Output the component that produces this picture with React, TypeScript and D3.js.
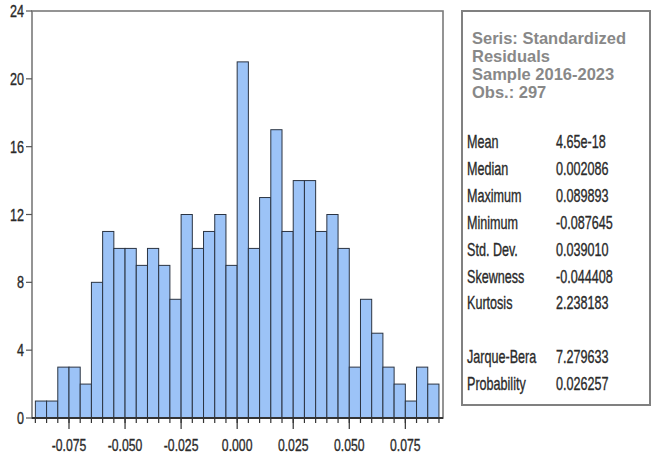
import React from "react";
import * as d3 from "d3";

const binStart = -0.09;
const binWidth = 0.005;
const counts = [1, 1, 3, 3, 2, 8, 11, 10, 10, 9, 10, 9, 7, 12, 10, 11, 12, 9, 21, 10, 13, 17, 11, 14, 14, 11, 12, 10, 3, 7, 5, 3, 2, 1, 3, 2];
const xTicks = [-0.075, -0.05, -0.025, 0, 0.025, 0.05, 0.075];
const yTicks = [0, 4, 8, 12, 16, 20, 24];
const headerLines = ["Seris: Standardized", "Residuals", "Sample 2016-2023", "Obs.: 297"];
const statLabels = ["Mean", "Median", "Maximum", "Minimum", "Std. Dev.", "Skewness", "Kurtosis", "", "Jarque-Bera", "Probability"];
const statValues = ["4.65e-18", "0.002086", "0.089893", "-0.087645", "0.039010", "-0.044408", "2.238183", "", "7.279633", "0.026257"];

const W = 653;
const H = 457;
const sans = "'Liberation Sans', Arial, sans-serif";

function NText({ x, y, size, sx = 0.72, anchor = "start", children, dy }: any) {
  return (
    <text transform={`translate(${x},${y}) scale(${sx},1)`} textAnchor={anchor} dy={dy}
      fontFamily={sans} fontSize={size} fill="#2a2a2a" stroke="#2a2a2a" strokeWidth={0.35}>{children}</text>
  );
}

export default function App() {
  const left = 32, right = 443, top = 11, bottom = 418;
  const x = d3.scaleLinear().domain([-0.0915, 0.0918]).range([left, right]);
  const y = d3.scaleLinear().domain([0, 24]).range([bottom, top]);
  const edges = d3.range(counts.length + 1).map((i) => binStart + i * binWidth);
  const fmt = (v: number) => d3.format(".3f")(v).replace("\u2212", "-");

  return (
    <svg width={W} height={H} style={{ position: "absolute", left: 0, top: 0, background: "#fff" }}>
      <rect x={0} y={0} width={W} height={H} fill="#fff" />
      {counts.map((c, i) => {
        const x0 = x(binStart + i * binWidth);
        const x1 = x(binStart + (i + 1) * binWidth);
        return (
          <rect key={i} x={x0} y={y(c)} width={x1 - x0} height={y(0) - y(c)}
            fill="#9cc3f7" stroke="#2b3442" strokeWidth={1} />
        );
      })}
      <rect x={left} y={top} width={right - left} height={bottom - top} fill="none" stroke="#7a7a7a" strokeWidth={1.6} />
      <line x1={left} x2={right} y1={bottom} y2={bottom} stroke="#333" strokeWidth={1.8} />
      {yTicks.map((t) => (
        <g key={t}>
          <line x1={left - 6} x2={left} y1={y(t)} y2={y(t)} stroke="#555" strokeWidth={1.2} />
          <NText x={left - 8} y={y(t)} dy="0.36em" anchor="end" size={17} sx={0.74}>{t}</NText>
        </g>
      ))}
      {edges.map((e, i) => (
        <line key={i} x1={x(e)} x2={x(e)} y1={bottom} y2={bottom + 5} stroke="#333" strokeWidth={1.2} />
      ))}
      {xTicks.map((t) => (
        <g key={t}>
          <line x1={x(t)} x2={x(t)} y1={bottom} y2={bottom + 11} stroke="#333" strokeWidth={1.2} />
          <NText x={x(t)} y={451} anchor="middle" size={17} sx={0.72}>{fmt(t)}</NText>
        </g>
      ))}
      <rect x={462} y={11} width={188} height={394} fill="#fff" stroke="#808080" strokeWidth={2} />
      {headerLines.map((s, i) => (
        <text key={s} x={472} y={44 + i * 18} fontFamily={sans} fontWeight="bold" fontSize={16.5} fill="#888">{s}</text>
      ))}
      {statLabels.map((s, i) => s ? (
        <g key={s}>
          <NText x={467} y={148 + i * 26.9} size={18} sx={0.7}>{s}</NText>
          <NText x={556} y={148 + i * 26.9} size={18} sx={0.7}>{statValues[i]}</NText>
        </g>
      ) : null)}
    </svg>
  );
}
